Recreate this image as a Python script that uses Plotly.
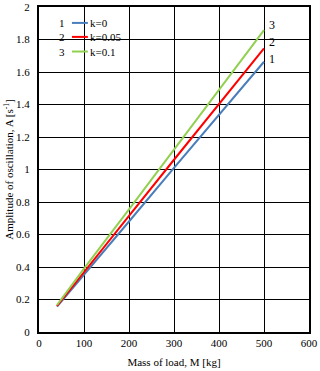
import plotly.graph_objects as go

mass = [40, 100, 200, 300, 400, 500]
amp_k0 = [0.156, 0.35, 0.68, 1.01, 1.34, 1.663]
amp_k005 = [0.160, 0.37, 0.715, 1.06, 1.40, 1.746]
amp_k01 = [0.166, 0.39, 0.755, 1.12, 1.49, 1.858]

series_names = ["k=0", "k=0.05", "k=0.1"]
series_nums = ["1", "2", "3"]
series_vals = [amp_k0, amp_k005, amp_k01]
series_cols = ["#4a7ebb", "#ff0000", "#92d050"]
end_shift = [3, 6, 5]

FONT = "Liberation Serif"
fig = go.Figure()
for name, num, vals, col, ys in zip(series_names, series_nums, series_vals, series_cols, end_shift):
    fig.add_trace(go.Scatter(x=mass, y=vals, mode="lines", name=name,
                             line=dict(color=col, width=2), showlegend=False,
                             hoverinfo="skip"))
    fig.add_annotation(x=mass[-1], y=vals[-1], text=num, showarrow=False,
                       xanchor="left", yanchor="middle", xshift=3, yshift=ys,
                       font=dict(family=FONT, size=12, color="#000"))

axis_common = dict(showgrid=True, gridcolor="#000", gridwidth=1,
                   showline=True, linecolor="#000", linewidth=2, mirror=True,
                   zeroline=False, ticks="", automargin=False,
                   tickfont=dict(family=FONT, size=11, color="#000"))

fig.update_layout(
    width=320, height=371,
    margin=dict(l=39, r=11, t=7, b=39),
    paper_bgcolor="white", plot_bgcolor="white",
    font=dict(family=FONT, size=11, color="#000"),
    xaxis=dict(range=[0, 600], dtick=100, tick0=0,
               title=dict(text="Mass of load, M [kg]", font=dict(family=FONT, size=11), standoff=10),
               **axis_common),
    yaxis=dict(range=[0, 2], dtick=0.2, tick0=0, ticklabelstandoff=5,
               title=dict(text="Amplitude of oscillation, A [s<sup>-1</sup>]", font=dict(family=FONT, size=11), standoff=0),
               **axis_common),
    showlegend=False,
)

# manual legend (key lines + labels)
row_y = [0.951, 0.908, 0.863]
for i in range(3):
    fig.add_shape(type="line", xref="paper", yref="paper",
                  x0=0.122, x1=0.181, y0=row_y[i], y1=row_y[i],
                  line=dict(color=series_cols[i], width=2))
    fig.add_annotation(xref="paper", yref="paper", x=0.103, y=row_y[i],
                       text=series_nums[i], showarrow=False, xanchor="right", yanchor="middle",
                       font=dict(family=FONT, size=11, color="#000"))
    fig.add_annotation(xref="paper", yref="paper", x=0.183, y=row_y[i],
                       text=series_names[i], showarrow=False, xanchor="left", yanchor="middle",
                       font=dict(family=FONT, size=11, color="#000"))

fig.write_html("out.html", config={"displayModeBar": False},
               post_script="document.body.style.margin='0';")
